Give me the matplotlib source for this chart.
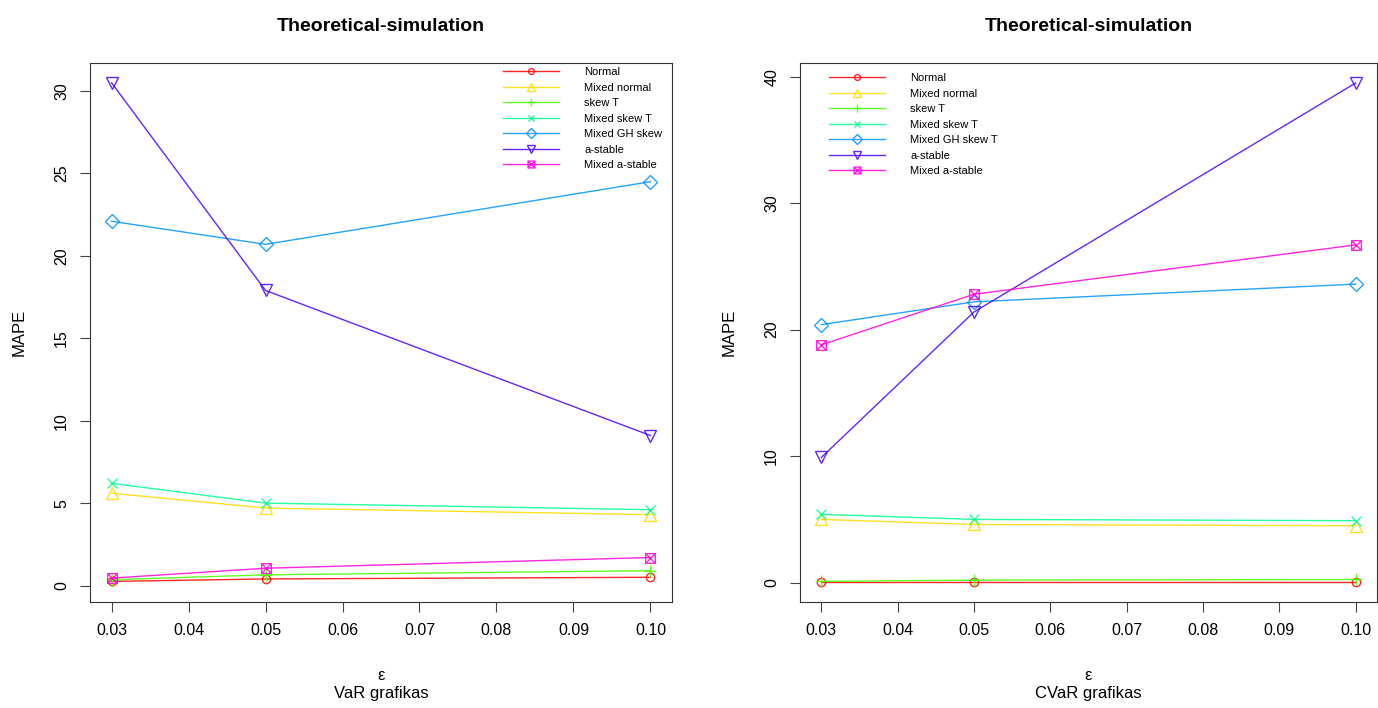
import matplotlib.pyplot as plt
from matplotlib.path import Path
import numpy as np

plt.rcParams['font.family'] = ['Liberation Sans', 'DejaVu Sans']

eps = [0.03, 0.05, 0.10]
xticks = [0.03, 0.04, 0.05, 0.06, 0.07, 0.08, 0.09, 0.10]

# VaR panel
var_names = ['Normal', 'Mixed normal', 'skew T', 'Mixed skew T', 'Mixed GH skew', 'a-stable', 'Mixed a-stable']
var_normal = [0.25, 0.4, 0.5]
var_mixed_normal = [5.6, 4.7, 4.3]
var_skew_t = [0.35, 0.65, 0.9]
var_mixed_skew_t = [6.2, 5.0, 4.6]
var_mixed_gh = [22.1, 20.7, 24.5]
var_astable = [30.5, 17.9, 9.1]
var_mixed_astable = [0.45, 1.05, 1.7]

# CVaR panel
cvar_names = ['Normal', 'Mixed normal', 'skew T', 'Mixed skew T', 'Mixed GH skew T', 'a-stable', 'Mixed a-stable']
cvar_normal = [0.05, 0.05, 0.05]
cvar_mixed_normal = [5.0, 4.6, 4.5]
cvar_skew_t = [0.1, 0.2, 0.25]
cvar_mixed_skew_t = [5.4, 5.0, 4.9]
cvar_mixed_gh = [20.4, 22.2, 23.6]
cvar_astable = [9.9, 21.4, 39.5]
cvar_mixed_astable = [18.8, 22.8, 26.7]

# R rainbow(7)
colors = ['#FF0000', '#FFDB00', '#49FF00', '#00FF92', '#0092FF', '#4900FF', '#FF00DB']

# square with an x inside (R pch 7)
sq = Path([(-1, -1), (1, -1), (1, 1), (-1, 1), (-1, -1)],
          [Path.MOVETO, Path.LINETO, Path.LINETO, Path.LINETO, Path.CLOSEPOLY])
cross = Path([(-1, -1), (1, 1), (-1, 1), (1, -1)],
             [Path.MOVETO, Path.LINETO, Path.MOVETO, Path.LINETO])
sq_x = Path.make_compound_path(sq, cross)

markers = ['o', '^', '+', 'x', 'D', 'v', sq_x]
msizes = [6, 8, 9, 7, 7, 8, 7]

fig = plt.figure(figsize=(13.78, 7.08), dpi=100)


def panel(rect, series, names, ylim, yticks, sub, leg_xy):
    ax = fig.add_axes(rect)
    for vals, c, m, ms, nm in zip(series, colors, markers, msizes, names):
        ax.plot(eps, vals, color=c, lw=1, marker=m, ms=ms, mfc='none',
                mec=c, mew=1, label=nm, alpha=0.85)
    ax.set_xlim(0.0272, 0.1028)
    ax.set_ylim(*ylim)
    ax.set_xticks(xticks)
    ax.set_xticklabels(['%.2f' % t for t in xticks])
    ax.set_yticks(yticks)
    ax.set_yticklabels([str(t) for t in yticks], rotation=90, va='center')
    ax.tick_params(direction='out', length=7, labelsize=11.5, pad=8, color='#444444')
    for s in ax.spines.values():
        s.set_color('#333333')
    ax.set_ylabel('MAPE', fontsize=12, labelpad=20)
    ax.set_title('Theoretical-simulation', fontsize=14, fontweight='bold', pad=23)
    ax.set_xlabel('ε\n' + sub, fontsize=12, labelpad=22, linespacing=1.25)
    ax.legend(loc='upper left', bbox_to_anchor=leg_xy, bbox_transform=fig.transFigure,
              frameon=False, fontsize=8, handlelength=5, handletextpad=2.3,
              labelspacing=0.5, borderpad=0, borderaxespad=0, markerscale=0.7)
    return ax


panel([90 / 1378, 0.1497, 582 / 1378, 0.7613],
      [var_normal, var_mixed_normal, var_skew_t, var_mixed_skew_t, var_mixed_gh, var_astable, var_mixed_astable],
      var_names, (-1.0, 31.7), [0, 5, 10, 15, 20, 25, 30], 'VaR grafikas',
      (503 / 1378, 1 - 67 / 708))

panel([800 / 1378, 0.1497, 577 / 1378, 0.7613],
      [cvar_normal, cvar_mixed_normal, cvar_skew_t, cvar_mixed_skew_t, cvar_mixed_gh, cvar_astable, cvar_mixed_astable],
      cvar_names, (-1.53, 41.08), [0, 10, 20, 30, 40], 'CVaR grafikas',
      (829 / 1378, 1 - 73 / 708))

fig.savefig('out.png', dpi=100)
